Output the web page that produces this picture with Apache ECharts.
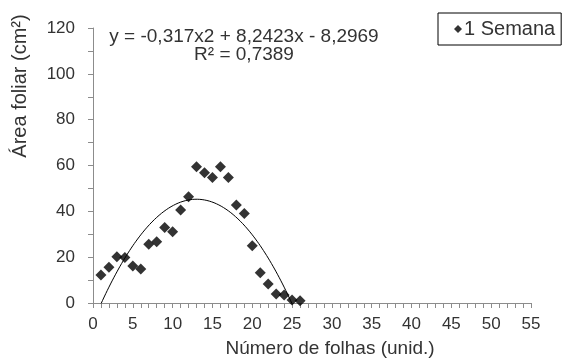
<!DOCTYPE html>
<html>
<head>
<meta charset="utf-8">
<script src="https://cdn.jsdelivr.net/npm/echarts@6/dist/echarts.min.js"></script>
<style>
html,body{margin:0;padding:0;background:#fff;}
#chart{width:566px;height:361px;}
</style>
</head>
<body>
<div id="chart"></div>
<script>
// Data
const leafCount = [1,2,3,4,5,6,7,8,9,10,11,12,13,14,15,16,17,18,19,20,21,22,23,24,25,26];
const leafArea  = [12.2,15.6,20.2,19.9,16.1,14.8,25.6,26.7,33.0,31.1,40.6,46.4,59.5,56.8,54.8,59.5,54.8,42.8,39.1,25.0,13.2,8.3,3.9,3.5,1.3,1.0];
const seriesName = '1 Semana';
// Polynomial trendline coefficients shown on the chart: y = a x^2 + b x + c
const trendCoef = [-0.317, 8.2423, -8.2969];
const equationText = 'y = -0,317x2 + 8,2423x - 8,2969';
const r2Text = 'R² = 0,7389';
const xTicks = [0,5,10,15,20,25,30,35,40,45,50,55];
const yTicks = [0,20,40,60,80,100,120];
const xTitle = 'Número de folhas (unid.)';
const yTitle = 'Área foliar (cm²)';

const scatterData = leafCount.map((x, i) => [x, leafArea[i]]);
const trendData = [];
for (let k = 0; k <= 250; k++) {
  const x = 1 + k * 0.1;
  trendData.push([x, trendCoef[0]*x*x + trendCoef[1]*x + trendCoef[2]]);
}

const FONT = 'Liberation Sans, Arial, sans-serif';
const TXT = '#333';
const AX = '#8c8c8c';

const chart = echarts.init(document.getElementById('chart'), null, {renderer: 'canvas'});
chart.setOption({
  animation: false,
  backgroundColor: '#fff',
  textStyle: {fontFamily: FONT},
  grid: {left: 93, top: 28, width: 438, height: 275, containLabel: false},
  legend: {
    data: [{name: seriesName, icon: 'diamond'}],
    left: 438, top: 13,
    itemWidth: 8, itemHeight: 8, itemGap: 4,
    padding: [6, 6, 6, 16],
    borderColor: '#000', borderWidth: 1,
    textStyle: {fontSize: 20, color: TXT, fontFamily: FONT, padding: [0,0,0,-3]}
  },
  xAxis: {
    type: 'value', min: xTicks[0], max: xTicks[xTicks.length-1], interval: 5,
    axisLine: {show: true, lineStyle: {color: AX}},
    axisTick: {show: true, length: 5, lineStyle: {color: AX}},
    minorTick: {show: true, splitNumber: 5, length: 5, lineStyle: {color: AX}},
    splitLine: {show: false},
    axisLabel: {fontSize: 17, color: TXT, margin: 13, fontFamily: FONT}
  },
  yAxis: {
    type: 'value', min: yTicks[0], max: yTicks[yTicks.length-1], interval: 20,
    axisLine: {show: true, lineStyle: {color: AX}},
    axisTick: {show: true, length: 5, lineStyle: {color: AX}},
    minorTick: {show: true, splitNumber: 2, length: 5, lineStyle: {color: AX}},
    splitLine: {show: false},
    axisLabel: {fontSize: 17, color: TXT, margin: 18, fontFamily: FONT}
  },
  graphic: [
    {type: 'text', x: 244, y: 46, silent: true,
      style: {text: equationText + '\n' + r2Text, fill: TXT, font: '19px ' + FONT,
        textAlign: 'center', textVerticalAlign: 'middle', lineHeight: 18}},
    {type: 'text', x: 330, y: 349, silent: true,
      style: {text: xTitle, fill: TXT, font: '19px ' + FONT, textAlign: 'center', textVerticalAlign: 'middle'}},
    {type: 'text', x: 20, y: 86, rotation: Math.PI/2, silent: true,
      style: {text: yTitle, fill: TXT, font: '20px ' + FONT, textAlign: 'center', textVerticalAlign: 'middle'}}
  ],
  series: [
    {
      name: 'trend', type: 'line', data: trendData, showSymbol: false, symbol: 'none',
      clip: true, smooth: false,
      lineStyle: {color: '#000', width: 1}, z: 2, silent: true
    },
    {
      name: seriesName, type: 'scatter', data: scatterData,
      symbol: 'diamond', symbolSize: 11,
      itemStyle: {color: '#000'}, z: 3
    }
  ]
});
</script>
</body>
</html>
